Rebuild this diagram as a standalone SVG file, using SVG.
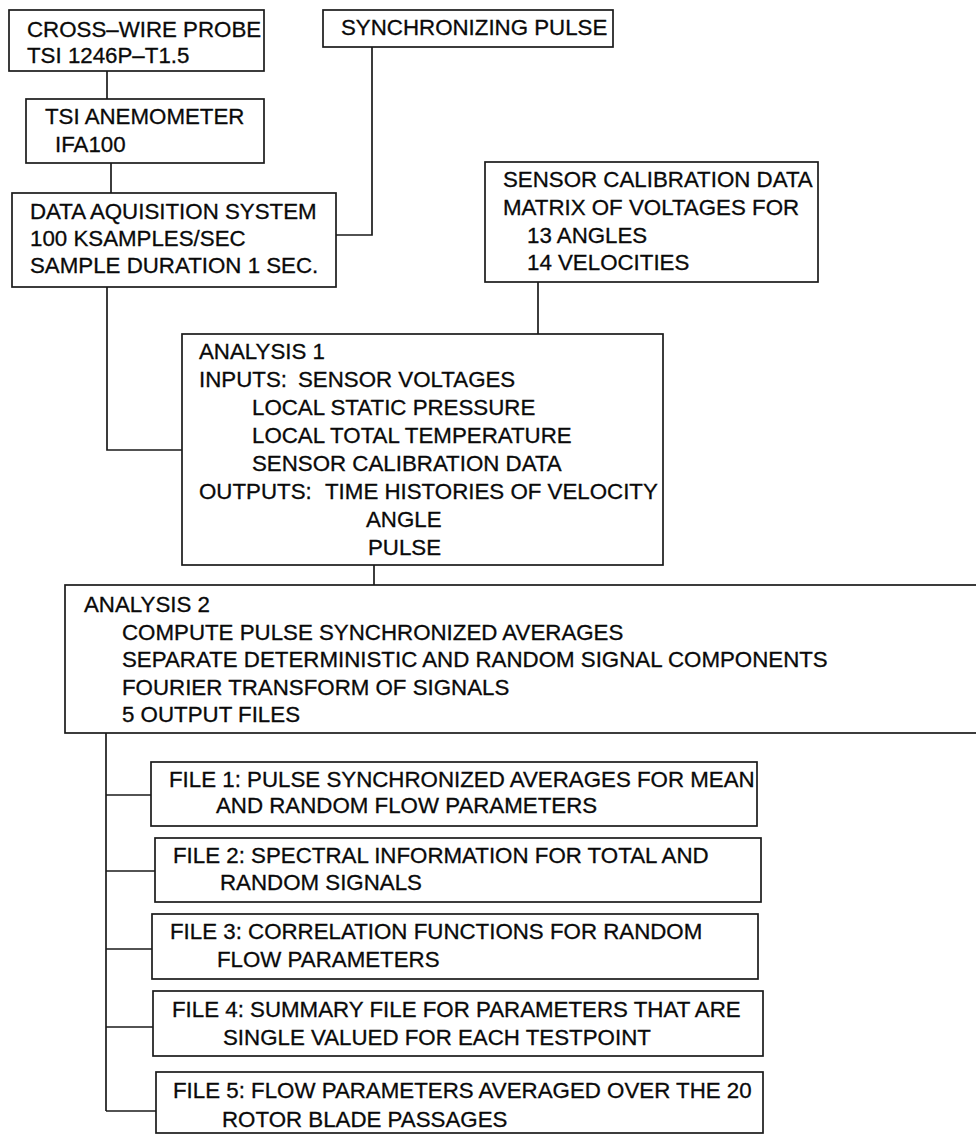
<svg xmlns="http://www.w3.org/2000/svg" width="976" height="1135" viewBox="0 0 976 1135">
<style>
rect{fill:none;stroke:#1a1a1a;stroke-width:1.7}
.c path{fill:none;stroke:#1a1a1a;stroke-width:1.7}
text{font-family:"Liberation Sans",Arial,sans-serif;font-size:22.3px;fill:#0a0a0a;stroke:#0a0a0a;stroke-width:0.3;white-space:pre}
</style>
<rect x="0" y="0" width="976" height="1135" style="fill:#fff;stroke:none"/>
<g class="c" id="connectors">
<path d="M107 71V99"/>
<path d="M111 163V193"/>
<path d="M372 47V235H336"/>
<path d="M107 287V450H182"/>
<path d="M538 282V334"/>
<path d="M374 565V585"/>
<path d="M106 733V1111"/>
<path d="M106 795H151"/>
<path d="M106 871H155"/>
<path d="M106 949H152"/>
<path d="M106 1027H153"/>
<path d="M106 1111H156"/>
</g>
<g id="probe"><rect x="9" y="10" width="255" height="61"/>
<text x="27" y="37">CROSS–WIRE PROBE</text><text x="27" y="63">TSI 1246P–T1.5</text></g>
<g id="anemometer"><rect x="26" y="99" width="238" height="64"/>
<text x="45" y="124">TSI ANEMOMETER</text><text x="55" y="152">IFA100</text></g>
<g id="sync"><rect x="323" y="10" width="290" height="37"/>
<text x="341" y="35">SYNCHRONIZING PULSE</text></g>
<g id="daq"><rect x="12" y="193" width="324" height="94"/>
<text x="30" y="219">DATA AQUISITION SYSTEM</text><text x="30" y="246">100 KSAMPLES/SEC</text><text x="30" y="273">SAMPLE DURATION 1 SEC.</text></g>
<g id="calib"><rect x="485" y="162" width="333" height="120"/>
<text x="503" y="187">SENSOR CALIBRATION DATA</text><text x="503" y="215">MATRIX OF VOLTAGES FOR</text>
<text x="527" y="243">13 ANGLES</text><text x="527" y="270">14 VELOCITIES</text></g>
<g id="analysis1"><rect x="182" y="334" width="481" height="231"/>
<text x="199" y="359">ANALYSIS 1</text>
<text x="199" y="387">INPUTS:</text><text x="298" y="387">SENSOR VOLTAGES</text>
<text x="252" y="415">LOCAL STATIC PRESSURE</text>
<text x="252" y="443">LOCAL TOTAL TEMPERATURE</text>
<text x="252" y="471">SENSOR CALIBRATION DATA</text>
<text x="199" y="499">OUTPUTS:</text><text x="325" y="499">TIME HISTORIES OF VELOCITY</text>
<text x="366" y="527">ANGLE</text>
<text x="368" y="555">PULSE</text></g>
<g id="analysis2"><rect x="65" y="585" width="930" height="148"/>
<text x="84" y="612">ANALYSIS 2</text>
<text x="122" y="640">COMPUTE PULSE SYNCHRONIZED AVERAGES</text>
<text x="122" y="667">SEPARATE DETERMINISTIC AND RANDOM SIGNAL COMPONENTS</text>
<text x="122" y="695">FOURIER TRANSFORM OF SIGNALS</text>
<text x="122" y="722">5 OUTPUT FILES</text></g>
<g id="file1"><rect x="151" y="762" width="606" height="64"/>
<text x="169" y="787">FILE 1: PULSE SYNCHRONIZED AVERAGES FOR MEAN</text><text x="216" y="813">AND RANDOM FLOW PARAMETERS</text></g>
<g id="file2"><rect x="155" y="838" width="606" height="64"/>
<text x="173" y="863">FILE 2: SPECTRAL INFORMATION FOR TOTAL AND</text><text x="220" y="890">RANDOM SIGNALS</text></g>
<g id="file3"><rect x="152" y="914" width="606" height="65"/>
<text x="170" y="939">FILE 3: CORRELATION FUNCTIONS FOR RANDOM</text><text x="217" y="967">FLOW PARAMETERS</text></g>
<g id="file4"><rect x="153" y="991" width="610" height="65"/>
<text x="172" y="1017">FILE 4: SUMMARY FILE FOR PARAMETERS THAT ARE</text><text x="223" y="1045">SINGLE VALUED FOR EACH TESTPOINT</text></g>
<g id="file5"><rect x="156" y="1072" width="607" height="61"/>
<text x="173" y="1098">FILE 5: FLOW PARAMETERS AVERAGED OVER THE 20</text><text x="222" y="1127">ROTOR BLADE PASSAGES</text></g>
</svg>
